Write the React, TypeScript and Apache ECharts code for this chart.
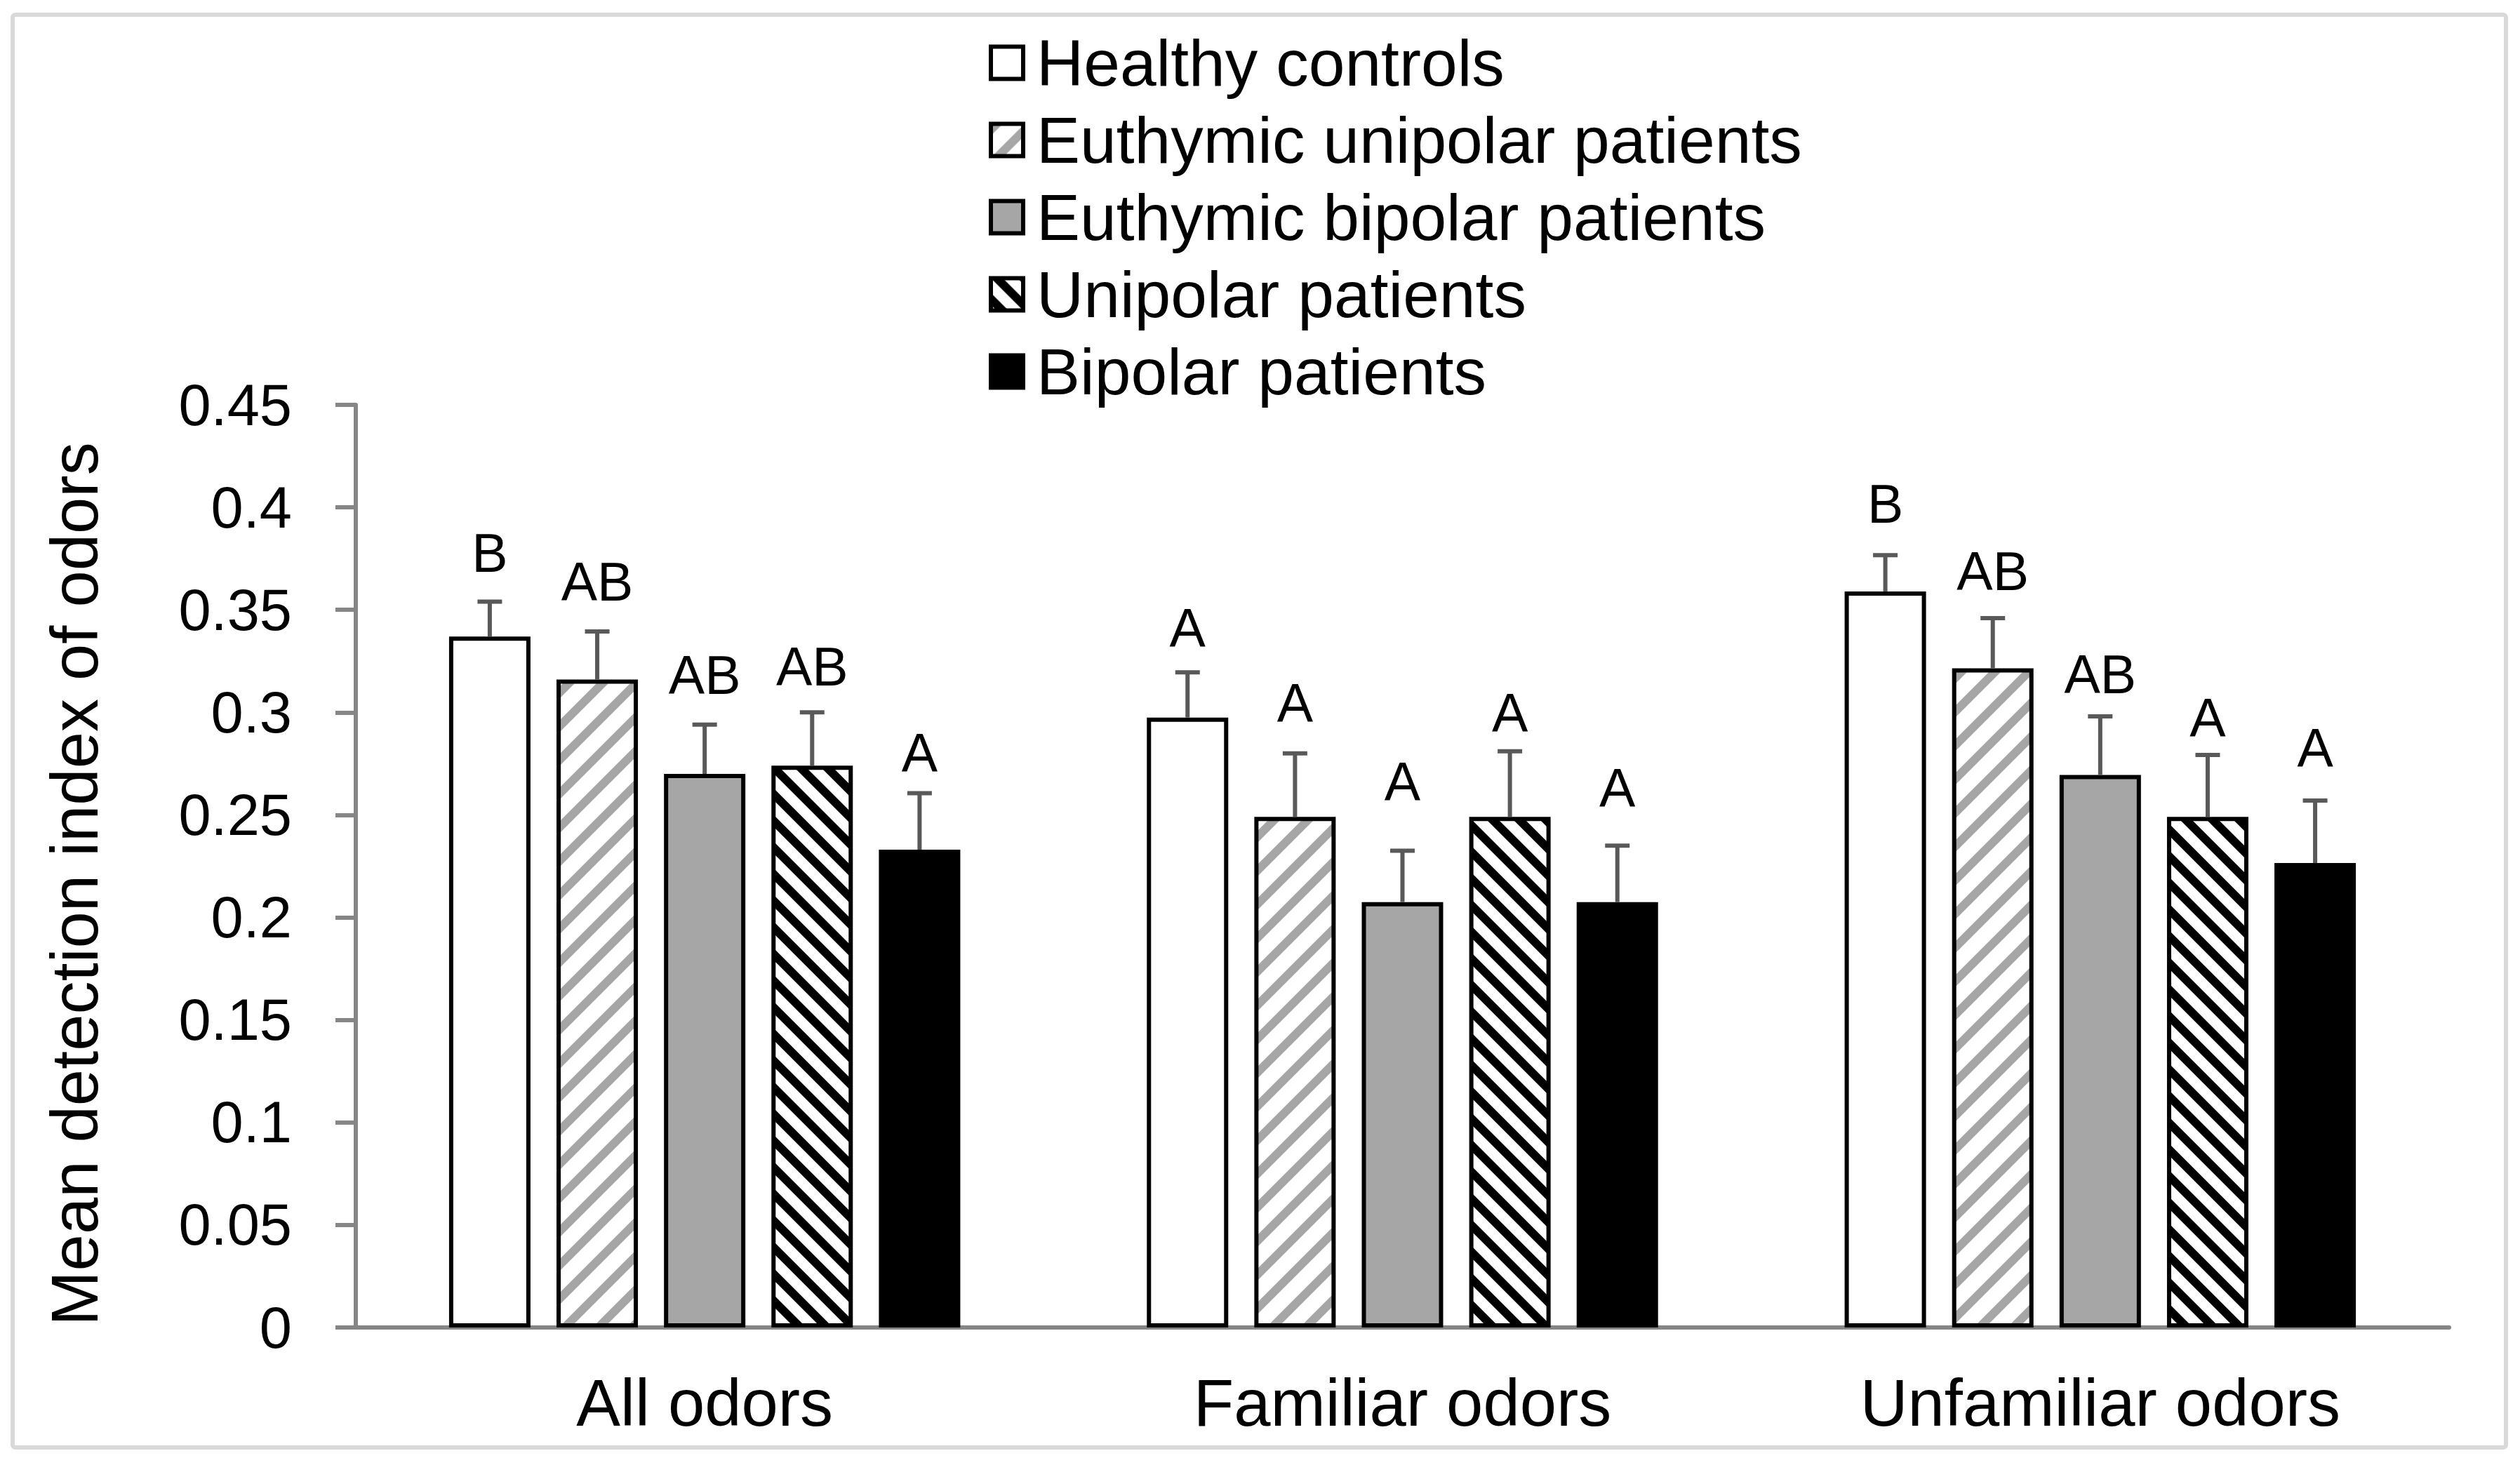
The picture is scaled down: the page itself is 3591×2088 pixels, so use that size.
import React, { useEffect, useRef } from "react";
import * as echarts from "echarts";

const categories = ["All odors", "Familiar odors", "Unfamiliar odors"];
const seriesNames = [
  "Healthy controls",
  "Euthymic unipolar patients",
  "Euthymic bipolar patients",
  "Unipolar patients",
  "Bipolar patients",
];

// means per group (All, Familiar, Unfamiliar)
const healthyMeans = [0.337, 0.2975, 0.359];
const euUnipolarMeans = [0.316, 0.249, 0.3215];
const euBipolarMeans = [0.27, 0.2075, 0.2695];
const unipolarMeans = [0.274, 0.249, 0.249];
const bipolarMeans = [0.233, 0.2075, 0.2265];

// standard errors (upper bars only)
const healthyErr = [0.017, 0.022, 0.0177];
const euUnipolarErr = [0.0235, 0.031, 0.0245];
const euBipolarErr = [0.024, 0.025, 0.0286];
const unipolarErr = [0.026, 0.032, 0.0302];
const bipolarErr = [0.0276, 0.0275, 0.0305];

// significance letters and their heights (in data units)
const healthyLetters = ["B", "A", "B"];
const euUnipolarLetters = ["AB", "A", "AB"];
const euBipolarLetters = ["AB", "A", "AB"];
const unipolarLetters = ["AB", "A", "A"];
const bipolarLetters = ["A", "A", "A"];

const healthyLetterY = [0.3777, 0.3412, 0.4018];
const euUnipolarLetterY = [0.3638, 0.3045, 0.369];
const euBipolarLetterY = [0.3183, 0.2662, 0.3185];
const unipolarLetterY = [0.3223, 0.2999, 0.2973];
const bipolarLetterY = [0.2802, 0.2631, 0.2825];

const yTickLabels = ["0", "0.05", "0.1", "0.15", "0.2", "0.25", "0.3", "0.35", "0.4", "0.45"];
const yAxisTitle = "Mean detection index of odors";

const FONT = "'Liberation Sans', Arial, Helvetica, sans-serif";
const BAR_WIDTH = 116;
const BAR_GAP = 0.32;

function makeStripes(P: number, w: number, color: string, dir: "up" | "down") {
  const c = document.createElement("canvas");
  c.width = P;
  c.height = P;
  const ctx = c.getContext("2d")!;
  ctx.fillStyle = "#ffffff";
  ctx.fillRect(0, 0, P, P);
  ctx.fillStyle = color;
  for (let k = -2; k <= 3; k++) {
    const c0 = k * P;
    ctx.beginPath();
    if (dir === "up") {
      ctx.moveTo(c0, 0);
      ctx.lineTo(c0 + w, 0);
      ctx.lineTo(c0 + w - P, P);
      ctx.lineTo(c0 - P, P);
    } else {
      ctx.moveTo(c0, 0);
      ctx.lineTo(c0 + w, 0);
      ctx.lineTo(c0 + w + P, P);
      ctx.lineTo(c0 + P, P);
    }
    ctx.closePath();
    ctx.fill();
  }
  return { image: c, repeat: "repeat", imageWidth: P, imageHeight: P } as any;
}

export default function App() {
  const ref = useRef<HTMLDivElement>(null);

  useEffect(() => {
    if (!ref.current) return;
    const chart = echarts.init(ref.current, undefined, { renderer: "svg" });

    const means = [healthyMeans, euUnipolarMeans, euBipolarMeans, unipolarMeans, bipolarMeans];
    const errs = [healthyErr, euUnipolarErr, euBipolarErr, unipolarErr, bipolarErr];
    const letters = [healthyLetters, euUnipolarLetters, euBipolarLetters, unipolarLetters, bipolarLetters];
    const letterYs = [healthyLetterY, euUnipolarLetterY, euBipolarLetterY, unipolarLetterY, bipolarLetterY];

    const fills: any[] = [
      "#ffffff",
      makeStripes(48, 17, "#a6a6a6", "up"),
      "#a6a6a6",
      makeStripes(38, 17, "#000000", "down"),
      "#000000",
    ];

    const barSeries = seriesNames.map((name, i) => ({
      type: "bar",
      name,
      data: means[i],
      barWidth: BAR_WIDTH,
      barGap: BAR_GAP * 100 + "%",
      itemStyle: { color: fills[i], borderColor: "#000000", borderWidth: 6 },
      emphasis: { disabled: true },
    }));

    const errData: number[][] = [];
    const errLetters: string[] = [];
    for (let s = 0; s < seriesNames.length; s++) {
      for (let c = 0; c < categories.length; c++) {
        errData.push([c, s, means[s][c], errs[s][c], letterYs[s][c]]);
        errLetters.push(letters[s][c]);
      }
    }
    const step = BAR_WIDTH * (1 + BAR_GAP);

    const errorSeries = {
      type: "custom",
      name: "errors",
      data: errData,
      encode: { x: 0, y: 2 },
      z: 10,
      silent: true,
      renderItem: (params: any, api: any) => {
        const cat = api.value(0);
        const s = api.value(1);
        const mean = api.value(2);
        const err = api.value(3);
        const ly = api.value(4);
        const base = api.coord([cat, mean]);
        const top = api.coord([cat, mean + err]);
        const lab = api.coord([cat, ly]);
        const x = base[0] + (s - 2) * step;
        const cap = 35;
        return {
          type: "group",
          children: [
            {
              type: "line",
              shape: { x1: x, y1: base[1], x2: x, y2: top[1] },
              style: { stroke: "#595959", lineWidth: 6 },
            },
            {
              type: "line",
              shape: { x1: x - cap / 2, y1: top[1], x2: x + cap / 2, y2: top[1] },
              style: { stroke: "#595959", lineWidth: 6 },
            },
            {
              type: "text",
              x: x,
              y: lab[1],
              style: {
                text: errLetters[params.dataIndex],
                fill: "#000000",
                fontSize: 77,
                fontFamily: FONT,
                align: "center",
                verticalAlign: "middle",
              },
            },
          ],
        };
      },
    };

    const option: any = {
      animation: false,
      backgroundColor: "#ffffff",
      textStyle: { fontFamily: FONT },
      grid: { left: 507, right: 101, top: 577, bottom: 196, containLabel: false },
      legend: {
        data: seriesNames,
        orient: "vertical",
        left: 1404,
        top: 38,
        icon: "rect",
        itemWidth: 46,
        itemHeight: 46,
        itemGap: 17,
        selectedMode: false,
        itemStyle: { borderColor: "#000000", borderWidth: 6 },
        textStyle: {
          fontSize: 93,
          color: "#000000",
          fontFamily: FONT,
          lineHeight: 36,
          padding: [0, 0, 10, 14],
        },
      },
      xAxis: {
        type: "category",
        data: categories,
        axisLine: { show: true, lineStyle: { color: "#868686", width: 6 } },
        axisTick: { show: false },
        axisLabel: { fontSize: 94, color: "#000000", margin: 60, fontFamily: FONT },
        splitLine: { show: false },
      },
      yAxis: {
        type: "value",
        min: 0,
        max: 0.45,
        interval: 0.05,
        axisLine: { show: true, lineStyle: { color: "#868686", width: 6 } },
        axisTick: { show: true, length: 29, lineStyle: { color: "#868686", width: 6 } },
        splitLine: { show: false },
        axisLabel: {
          fontSize: 83,
          color: "#000000",
          margin: 91,
          fontFamily: FONT,
          formatter: (v: number) => yTickLabels[Math.round(v / 0.05)] ?? String(v),
        },
      },
      graphic: [
        {
          type: "rect",
          shape: { x: 18, y: 21, width: 3553, height: 2042, r: 4 },
          style: { fill: "none", stroke: "#d9d9d9", lineWidth: 6 },
          silent: true,
          z: -10,
        },
        {
          type: "text",
          x: 106,
          y: 1260,
          rotation: Math.PI / 2,
          style: {
            text: yAxisTitle,
            fill: "#000000",
            fontSize: 94,
            fontFamily: FONT,
            align: "center",
            verticalAlign: "middle",
          },
        },
      ],
      series: [...barSeries, errorSeries],
    };

    chart.setOption(option);
    return () => {
      chart.dispose();
    };
  }, []);

  return (
    <div
      ref={ref}
      style={{ position: "absolute", left: 0, top: 0, width: 3591, height: 2088, background: "#ffffff" }}
    />
  );
}
